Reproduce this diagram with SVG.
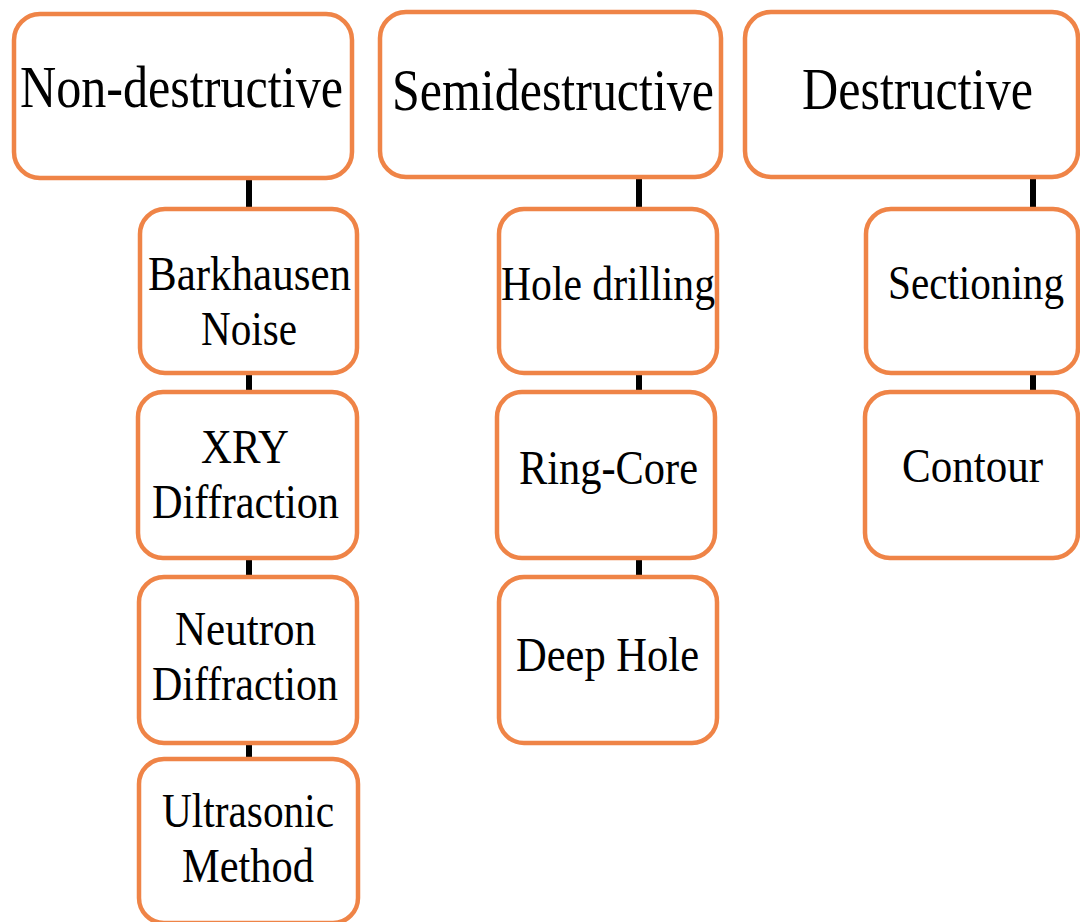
<svg xmlns="http://www.w3.org/2000/svg" width="1080" height="922" viewBox="0 0 1080 922">
  <style>
    .box { fill: #ffffff; stroke: #EF8447; stroke-width: 4.5; }
    .link { stroke: #000000; stroke-width: 6; fill: none; }
    .head { font-family: 'Liberation Serif', 'Times New Roman', serif; font-size: 60px; fill: #000000; }
    .item { font-family: 'Liberation Serif', 'Times New Roman', serif; font-size: 48px; fill: #000000; }
  </style>
  <rect width="1080" height="922" fill="#ffffff"/>

  <!-- vertical links between category headers and methods -->
  <g id="connectors">
    <line class="link" x1="249" y1="178" x2="249" y2="209"/>
    <line class="link" x1="249" y1="373" x2="249" y2="392"/>
    <line class="link" x1="249" y1="558" x2="249" y2="577"/>
    <line class="link" x1="249" y1="743" x2="249" y2="759"/>
    <line class="link" x1="639" y1="177" x2="639" y2="209"/>
    <line class="link" x1="639" y1="373" x2="639" y2="392"/>
    <line class="link" x1="639" y1="558" x2="639" y2="577"/>
    <line class="link" x1="1033" y1="177" x2="1033" y2="209"/>
    <line class="link" x1="1033" y1="373" x2="1033" y2="392"/>
  </g>

  <!-- category headers -->
  <g id="non-destructive">
    <rect class="box" x="14" y="14" width="338" height="164" rx="26"/>
    <text class="head" x="20" y="107" textLength="323" lengthAdjust="spacingAndGlyphs">Non-destructive</text>
  </g>
  <g id="semidestructive">
    <rect class="box" x="380" y="12" width="341" height="165" rx="26"/>
    <text class="head" x="392" y="110" textLength="322" lengthAdjust="spacingAndGlyphs">Semidestructive</text>
  </g>
  <g id="destructive">
    <rect class="box" x="745" y="12" width="333" height="165" rx="26"/>
    <text class="head" x="802" y="109" textLength="231" lengthAdjust="spacingAndGlyphs">Destructive</text>
  </g>

  <!-- non-destructive methods -->
  <g id="barkhausen">
    <rect class="box" x="140" y="209" width="217" height="164" rx="25"/>
    <text class="item" x="148" y="290" textLength="203" lengthAdjust="spacingAndGlyphs">Barkhausen</text>
    <text class="item" x="201" y="345" textLength="96" lengthAdjust="spacingAndGlyphs">Noise</text>
  </g>
  <g id="xry">
    <rect class="box" x="138" y="392" width="219" height="166" rx="25"/>
    <text class="item" x="201" y="463" textLength="88" lengthAdjust="spacingAndGlyphs">XRY</text>
    <text class="item" x="152" y="518" textLength="187" lengthAdjust="spacingAndGlyphs">Diffraction</text>
  </g>
  <g id="neutron">
    <rect class="box" x="139" y="577" width="218" height="166" rx="25"/>
    <text class="item" x="175" y="645" textLength="141" lengthAdjust="spacingAndGlyphs">Neutron</text>
    <text class="item" x="152" y="700" textLength="186" lengthAdjust="spacingAndGlyphs">Diffraction</text>
  </g>
  <g id="ultrasonic">
    <rect class="box" x="139" y="759" width="219" height="164" rx="25"/>
    <text class="item" x="162" y="827" textLength="172" lengthAdjust="spacingAndGlyphs">Ultrasonic</text>
    <text class="item" x="182" y="882" textLength="132" lengthAdjust="spacingAndGlyphs">Method</text>
  </g>

  <!-- semidestructive methods -->
  <g id="hole-drilling">
    <rect class="box" x="499" y="209" width="218" height="164" rx="25"/>
    <text class="item" x="501" y="300" textLength="214" lengthAdjust="spacingAndGlyphs">Hole drilling</text>
  </g>
  <g id="ring-core">
    <rect class="box" x="497" y="392" width="218" height="166" rx="25"/>
    <text class="item" x="519" y="484" textLength="179" lengthAdjust="spacingAndGlyphs">Ring-Core</text>
  </g>
  <g id="deep-hole">
    <rect class="box" x="499" y="577" width="218" height="166" rx="25"/>
    <text class="item" x="516" y="671" textLength="183" lengthAdjust="spacingAndGlyphs">Deep Hole</text>
  </g>

  <!-- destructive methods -->
  <g id="sectioning">
    <rect class="box" x="866" y="209" width="212" height="164" rx="25"/>
    <text class="item" x="888" y="299" textLength="176" lengthAdjust="spacingAndGlyphs">Sectioning</text>
  </g>
  <g id="contour">
    <rect class="box" x="865" y="392" width="213" height="166" rx="25"/>
    <text class="item" x="902" y="482" textLength="141" lengthAdjust="spacingAndGlyphs">Contour</text>
  </g>
</svg>
